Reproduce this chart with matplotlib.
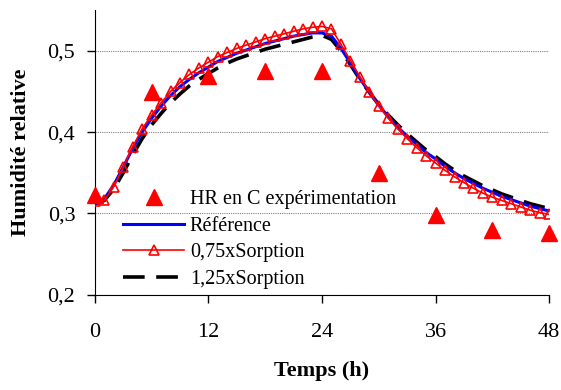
import matplotlib.pyplot as plt
import numpy as np

plt.rcParams['font.family'] = ['Liberation Serif', 'DejaVu Serif']

# heures de simulation
heures = np.arange(0, 49)

# HR mesurée en C (toutes les 6 h)
t_exp = [0, 6, 12, 18, 24, 30, 36, 42, 48]
hr_exp = [0.323, 0.449, 0.469, 0.475, 0.475, 0.350, 0.298, 0.280, 0.276]

hr_ref = [0.312, 0.318, 0.335, 0.357, 0.380, 0.400, 0.417, 0.432, 0.445, 0.456,
          0.465, 0.473, 0.480, 0.487, 0.492, 0.497, 0.501, 0.505, 0.509, 0.512,
          0.515, 0.518, 0.520, 0.522, 0.522, 0.518, 0.503, 0.485, 0.466, 0.449,
          0.433, 0.419, 0.406, 0.395, 0.385, 0.375, 0.367, 0.358, 0.350, 0.343,
          0.337, 0.331, 0.326, 0.321, 0.317, 0.313, 0.309, 0.306, 0.303]

hr_075 = [0.315, 0.316, 0.333, 0.357, 0.382, 0.404, 0.421, 0.436, 0.450, 0.461,
          0.471, 0.479, 0.486, 0.493, 0.498, 0.503, 0.507, 0.511, 0.515, 0.518,
          0.521, 0.524, 0.527, 0.529, 0.530, 0.527, 0.508, 0.488, 0.468, 0.449,
          0.432, 0.417, 0.404, 0.392, 0.381, 0.371, 0.362, 0.353, 0.345, 0.338,
          0.331, 0.325, 0.320, 0.316, 0.312, 0.308, 0.304, 0.301, 0.299]

hr_125 = [0.312, 0.316, 0.330, 0.350, 0.372, 0.392, 0.409, 0.423, 0.436, 0.447,
          0.457, 0.465, 0.472, 0.479, 0.485, 0.490, 0.494, 0.498, 0.502, 0.505,
          0.508, 0.511, 0.514, 0.517, 0.519, 0.514, 0.500, 0.483, 0.465, 0.449,
          0.434, 0.421, 0.409, 0.398, 0.388, 0.378, 0.370, 0.361, 0.353, 0.346,
          0.340, 0.334, 0.329, 0.324, 0.320, 0.316, 0.312, 0.309, 0.306]

fig = plt.figure(figsize=(5.61, 3.90), dpi=100)
ax = fig.add_axes([0.169, 0.244, 0.810, 0.730])

ax.plot(heures, hr_ref, color='#0000ff', lw=2.2, label='Référence', zorder=3)
ax.plot(heures, hr_075, color='#ff0000', lw=1.2, marker='^', markersize=7,
        markerfacecolor='none', markeredgecolor='#ff0000', markeredgewidth=1.2,
        label='0,75xSorption', zorder=4)
ax.plot(heures, hr_125, color='black', lw=2.6, dashes=(6, 3.2), label='1,25xSorption', zorder=2)
ax.plot(t_exp, hr_exp, linestyle='none', marker='^', markersize=12, color='#ff0000',
        label='HR en C expérimentation', zorder=5, clip_on=False)

ax.set_xlim(0, 48)
ax.set_ylim(0.2, 0.55)
ax.set_xticks([0, 12, 24, 36, 48])
ax.set_yticks([0.2, 0.3, 0.4, 0.5])
ax.set_yticklabels(['0,2', '0,3', '0,4', '0,5'])
ax.tick_params(axis='both', labelsize=16, direction='out', length=6, width=1)
ax.tick_params(axis='x', pad=14)
ax.tick_params(axis='y', pad=8)

ax.spines['top'].set_visible(False)
ax.spines['right'].set_visible(False)
ax.yaxis.grid(True, color='#808080', linestyle=(0, (1, 1)), linewidth=0.8)
ax.set_axisbelow(True)

ax.set_xlabel('Temps (h)', fontsize=16, fontweight='bold', labelpad=14)
ax.set_ylabel('Humidité relative', fontsize=16, fontweight='bold', labelpad=12)

h, l = ax.get_legend_handles_labels()
order = [3, 0, 1, 2]
ax.legend([h[i] for i in order], [l[i] for i in order], loc='lower left',
          bbox_to_anchor=(0.045, -0.008), frameon=False, fontsize=14.5,
          handlelength=3.0, handletextpad=0.3, labelspacing=0.38, borderaxespad=0)

plt.savefig('out.png', dpi=100)
